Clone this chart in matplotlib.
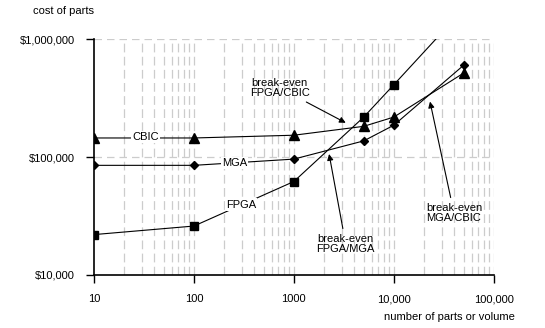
import matplotlib.pyplot as plt
from matplotlib.ticker import FixedLocator, NullLocator

plt.rcParams['font.family'] = ['Liberation Sans', 'DejaVu Sans']

volume = [10, 100, 1000, 5000, 10000, 50000]
fpga = [22000, 26000, 62000, 218000, 410000, 1800000]
mga = [85000, 85000, 96000, 137000, 186000, 600000]
cbic = [145000, 145000, 153000, 182000, 218000, 515000]

x_ticks = [10, 100, 1000, 10000, 100000]
x_labels = ['10', '100', '1000', '10,000', '100,000']
y_ticks = [10000, 100000, 1000000]
y_labels = ['$10,000', '$100,000', '$1,000,000']

fig = plt.figure(figsize=(5.45, 3.28), dpi=100)
ax = fig.add_axes([0.1725, 0.1616, 0.7335, 0.7194])

ax.plot(volume, fpga, color='black', lw=0.8, marker='s', ms=6)
ax.plot(volume, mga, color='black', lw=0.8, marker='D', ms=4.5)
ax.plot(volume, cbic, color='black', lw=0.8, marker='^', ms=6.5)

ax.set_xscale('log')
ax.set_yscale('log')
ax.set_xlim(10, 100000)
ax.set_ylim(10000, 1000000)

# light dashed grid: verticals at every minor step, horizontals at majors
minor_x = [m * 10 ** e for e in range(1, 5) for m in range(2, 10)]
for xv in minor_x + x_ticks[1:]:
    ax.axvline(xv, color='#cccccc', lw=0.9, ls=(0, (7, 3.5)), zorder=0)
for yv in y_ticks[1:]:
    ax.axhline(yv, color='#cccccc', lw=0.9, ls=(0, (6, 4)), zorder=0)

ax.xaxis.set_major_locator(FixedLocator(x_ticks))
ax.set_xticklabels(x_labels)
ax.yaxis.set_major_locator(FixedLocator(y_ticks))
ax.set_yticklabels(y_labels)
ax.xaxis.set_minor_locator(NullLocator())
ax.yaxis.set_minor_locator(NullLocator())
ax.tick_params(length=6, width=1, labelsize=8, pad=8)

for s in ['top', 'right']:
    ax.spines[s].set_visible(False)
for s in ['left', 'bottom']:
    ax.spines[s].set_linewidth(1.2)

box = dict(facecolor='white', edgecolor='none', pad=1)
ax.text(33, 148000, 'CBIC', fontsize=8, ha='center', va='center', bbox=box)
ax.text(255, 89000, 'MGA', fontsize=8, ha='center', va='center', bbox=box)
ax.text(295, 39500, 'FPGA', fontsize=8, ha='center', va='center', bbox=box)

arrow = dict(arrowstyle='-|>', color='black', lw=0.8, mutation_scale=9,
             shrinkA=2, shrinkB=0)
ax.annotate('break-even\nFPGA/CBIC', xy=(3300, 195000), xytext=(720, 385000),
            fontsize=8, ha='center', va='center', arrowprops=arrow,
            linespacing=1.0)
ax.annotate('break-even\nFPGA/MGA', xy=(2250, 106000), xytext=(3300, 18300),
            fontsize=8, ha='center', va='center', arrowprops=arrow,
            linespacing=1.0)
ax.annotate('break-even\nMGA/CBIC', xy=(23000, 295000), xytext=(40000, 33500),
            fontsize=8, ha='center', va='center', arrowprops=arrow,
            linespacing=1.0)

fig.text(0.06, 0.965, 'cost of parts', fontsize=8, ha='left', va='center')
fig.text(0.945, 0.035, 'number of parts or volume', fontsize=8, ha='right', va='center')

fig.savefig('out.png', dpi=100)
